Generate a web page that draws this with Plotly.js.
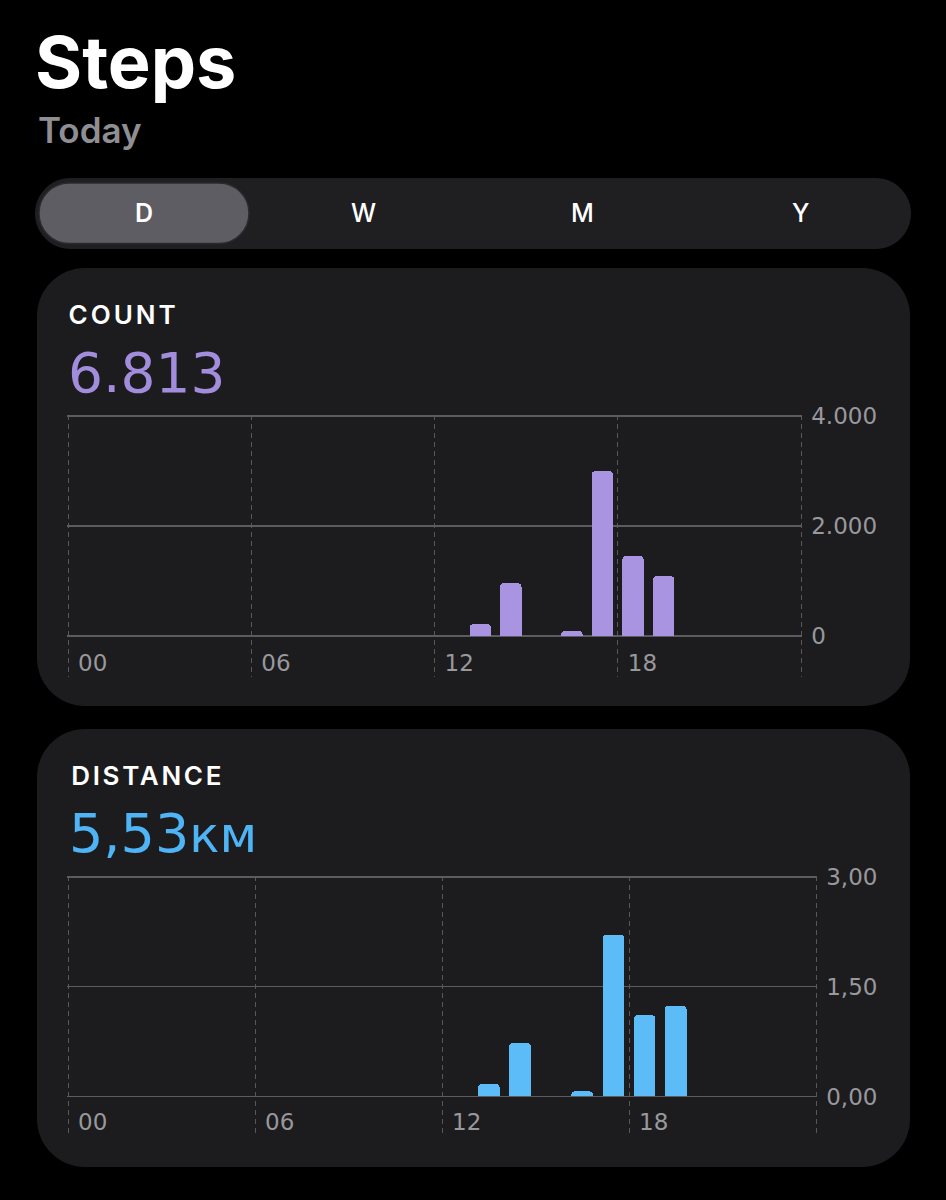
<!DOCTYPE html>
<html>
<head>
<meta charset="utf-8">
<script src="https://cdn.plot.ly/plotly-3.0.1.min.js"></script>
<style>
  html, body { margin: 0; padding: 0; background: #000; }
  #chart { width: 946px; height: 1200px; }
</style>
</head>
<body>
<div id="chart"></div>
<script>
// ---------- data ----------
const pageTitle = 'Steps';
const pageSubtitle = 'Today';
const periods = ['D', 'W', 'M', 'Y'];
const selectedPeriod = 'D';

const countLabel = 'COUNT';
const countTotal = '6.813';
const countHours = [13, 14, 16, 17, 18, 19];
const countSteps = [215, 960, 92, 3000, 1455, 1091];
const countTickVals = [0, 2000, 4000];
const countTickText = ['0', '2.000', '4.000'];

const distanceLabel = 'DISTANCE';
const distanceTotal = '5,53';
const distanceUnit = 'км';
const distanceHours = [13, 14, 16, 17, 18, 19];
const distanceKm = [0.17, 0.73, 0.07, 2.21, 1.11, 1.24];
const distanceTickVals = [0, 1.5, 3];
const distanceTickText = ['0,00', '1,50', '3,00'];

const hourTickVals = [0, 6, 12, 18, 24];
const hourTickText = ['00', '06', '12', '18', ''];

// ---------- helpers ----------
const W = 946, H = 1200;
const px = x => x / W;
const py = y => 1 - y / H;
function roundRect(x0, y0, x1, y1, r) {
  const k = 0.5523 * r;
  const P = (x, y) => px(x).toFixed(5) + ',' + py(y).toFixed(5);
  return 'M ' + P(x0 + r, y0) +
    ' L ' + P(x1 - r, y0) +
    ' C ' + P(x1 - r + k, y0) + ' ' + P(x1, y0 + r - k) + ' ' + P(x1, y0 + r) +
    ' L ' + P(x1, y1 - r) +
    ' C ' + P(x1, y1 - r + k) + ' ' + P(x1 - r + k, y1) + ' ' + P(x1 - r, y1) +
    ' L ' + P(x0 + r, y1) +
    ' C ' + P(x0 + r - k, y1) + ' ' + P(x0, y1 - r + k) + ' ' + P(x0, y1 - r) +
    ' L ' + P(x0, y0 + r) +
    ' C ' + P(x0, y0 + r - k) + ' ' + P(x0 + r - k, y0) + ' ' + P(x0 + r, y0) + ' Z';
}

const gray = '#98989d';
const tickFont = { family: 'DejaVu Sans', size: 23, color: gray };
const uiFont = 'Inter, "Noto Sans", sans-serif';

// ---------- traces ----------
const traces = [
  {
    type: 'bar', x: countHours, y: countSteps, xaxis: 'x', yaxis: 'y',
    width: 0.7, offset: 0.15,
    marker: { color: '#a994e2', cornerradius: 4, line: { width: 0 } },
    hoverinfo: 'skip', showlegend: false
  },
  {
    type: 'bar', x: distanceHours, y: distanceKm, xaxis: 'x2', yaxis: 'y2',
    width: 0.7, offset: 0.15,
    marker: { color: '#5cbcf8', cornerradius: 4, line: { width: 0 } },
    hoverinfo: 'skip', showlegend: false
  }
];

// ---------- axes ----------
// plot geometry in pixels: left (hour 0), right (hour 24), top (max tick), zero, bottom (end of dashed lines)
function buildAxes(g, ymax, yVals, yText, xa, ya) {
  const pad = 1.2; // keep edge grid lines inside the range
  const hPx = (g.right - g.left) / 24;
  const vPx = (g.zero - g.top) / ymax;
  const x = {
    domain: [px(g.left - pad), px(g.right + pad)], anchor: ya,
    range: [-pad / hPx, 24 + pad / hPx],
    tickmode: 'array', tickvals: hourTickVals, ticktext: hourTickText,
    showgrid: true, gridcolor: '#58585c', gridwidth: 1, griddash: '5px,4px',
    zeroline: false, showline: false, ticks: '',
    ticklabelposition: 'inside right', ticklabelshift: 10, ticklabelstandoff: -5,
    tickfont: tickFont, fixedrange: true
  };
  const y = {
    domain: [py(g.bottom), py(g.top - pad)], anchor: xa,
    range: [-(g.bottom - g.zero) / vPx, ymax + pad / vPx], side: 'right',
    tickmode: 'array', tickvals: yVals, ticktext: yText,
    showgrid: true, gridcolor: '#5c5c60', gridwidth: 1.2,
    zeroline: false, showline: false, ticks: '', ticklabelstandoff: 8,
    tickfont: tickFont, fixedrange: true
  };
  return [x, y];
}
const [xa1, ya1] = buildAxes({ left: 68, right: 801, top: 416, zero: 636, bottom: 677 }, 4000, countTickVals, countTickText, 'x', 'y');
const [xa2, ya2] = buildAxes({ left: 68, right: 816, top: 877, zero: 1096.5, bottom: 1136 }, 3, distanceTickVals, distanceTickText, 'x2', 'y2');

const shapes = [
  { type: 'path', xref: 'paper', yref: 'paper', layer: 'below', path: roundRect(35, 178, 911, 249, 35.5), fillcolor: '#1f1f22', line: { width: 0 } },
  { type: 'path', xref: 'paper', yref: 'paper', layer: 'below', path: roundRect(39, 183, 249, 243.5, 30), fillcolor: '#5e5d63', line: { color: '#2b2b2e', width: 1.5 } },
  { type: 'path', xref: 'paper', yref: 'paper', layer: 'below', path: roundRect(37, 268, 910, 706, 48), fillcolor: '#1c1c1e', line: { width: 0 } },
  { type: 'path', xref: 'paper', yref: 'paper', layer: 'below', path: roundRect(37, 729, 910, 1167, 48), fillcolor: '#1c1c1e', line: { width: 0 } }
];

const countSpacing = 3, distanceSpacing = 2.7;
const segCenters = [144, 363, 582, 800];
const annotations = [
  { text: pageTitle, x: px(33), y: py(62), xanchor: 'left', yanchor: 'middle',
    font: { family: uiFont, size: 72, weight: 700, color: '#ffffff' } },
  { text: pageSubtitle, x: px(36), y: py(130), xanchor: 'left', yanchor: 'middle',
    font: { family: uiFont, size: 35, weight: 600, color: '#8e8e93' } },
  { text: countLabel, x: px(66.5 + countLabel.length * countSpacing / 2), y: py(314), xanchor: 'left', yanchor: 'middle',
    font: { family: uiFont, size: 26, weight: 600, color: '#ffffff' } },
  { text: countTotal, x: px(66), y: py(373), xanchor: 'left', yanchor: 'middle',
    font: { family: 'DejaVu Sans', size: 55, color: '#a28ddd' } },
  { text: distanceLabel, x: px(69.5 + distanceLabel.length * distanceSpacing / 2), y: py(775), xanchor: 'left', yanchor: 'middle',
    font: { family: 'Inter, "Noto Sans", sans-serif', size: 26, weight: 600, color: '#ffffff' } },
  { text: distanceTotal + '<span style="font-size:50px">' + distanceUnit + '</span>', x: px(67), y: py(833), xanchor: 'left', yanchor: 'middle',
    font: { family: 'DejaVu Sans', size: 54, color: '#4fb4f6' } }
];
periods.forEach((p, i) => {
  annotations.push({
    text: p, x: px(segCenters[i]), y: py(213), xanchor: 'center', yanchor: 'middle',
    font: { family: uiFont, size: 25, weight: p === selectedPeriod ? 600 : 500, color: '#ffffff' }
  });
});
annotations.forEach(a => { a.xref = 'paper'; a.yref = 'paper'; a.showarrow = false; });

const layout = {
  width: W, height: H,
  margin: { l: 0, r: 0, t: 0, b: 0 },
  paper_bgcolor: '#000000', plot_bgcolor: 'rgba(0,0,0,0)',
  showlegend: false, bargap: 0,
  xaxis: xa1, yaxis: ya1, xaxis2: xa2, yaxis2: ya2,
  shapes: shapes,
  annotations: annotations
};

Plotly.newPlot('chart', traces, layout, { staticPlot: true, displayModeBar: false }).then(gd => {
  gd.querySelectorAll('.annotation-text').forEach(t => {
    if (t.textContent === countLabel) t.style.letterSpacing = countSpacing + 'px';
    if (t.textContent === distanceLabel) t.style.letterSpacing = distanceSpacing + 'px';
  });
});
</script>
</body>
</html>
